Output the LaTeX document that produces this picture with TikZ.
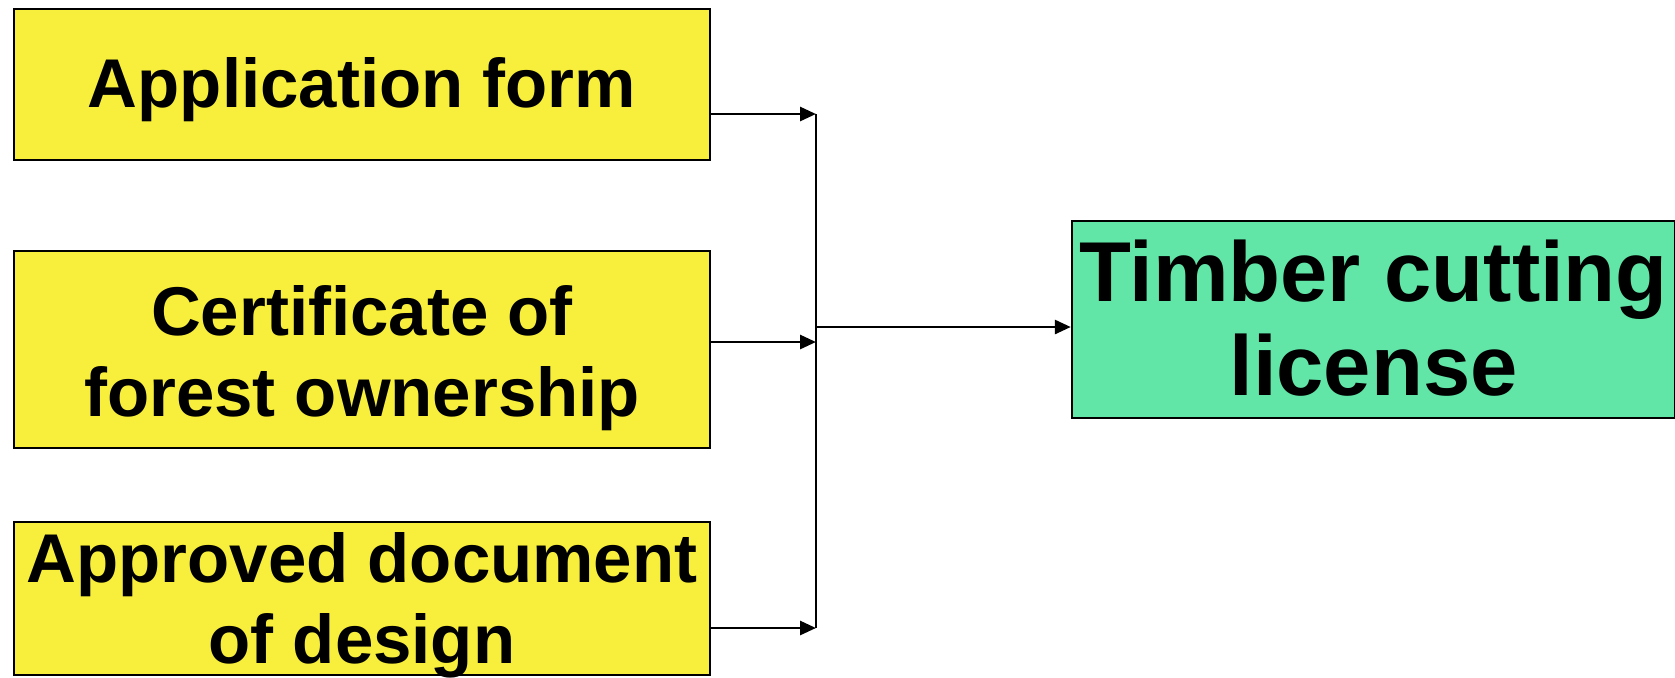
\documentclass[tikz,border=0pt]{standalone}
\usepackage{fontspec}
\setmainfont{Liberation Sans}
\usetikzlibrary{arrows.meta}
\definecolor{boxyellow}{HTML}{F8EF3C}
\definecolor{boxgreen}{HTML}{62E6A8}
\begin{document}
\begin{tikzpicture}[x=0.5pt,y=-0.5pt,
  docbox/.style={draw=black, line width=1.2pt, fill=boxyellow, inner sep=0pt, minimum width=696*0.5pt},
  doctext/.style={inner sep=0pt, align=center, font=\fontsize{34.5pt}{40.5pt}\selectfont\bfseries},
  resbox/.style={draw=black, line width=1.2pt, fill=boxgreen, inner sep=0pt},
  restext/.style={inner sep=0pt, align=center, font=\fontsize{42.5pt}{47pt}\selectfont\bfseries},
  conn/.style={line width=1.4pt, -{Triangle[length=8pt,width=7pt]}},
  plain/.style={line width=1.4pt}]
\useasboundingbox (0,0) rectangle (1675,677);
\node[docbox, minimum height=151*0.5pt] (a) at (362,84.5) {};
\node[docbox, minimum height=197*0.5pt] (b) at (362,349.5) {};
\node[docbox, minimum height=153*0.5pt] (c) at (362,598.5) {};
\node[resbox, minimum width=603*0.5pt, minimum height=197*0.5pt] (t) at (1373.5,319.5) {};
\node[doctext] (at) at ([yshift=-2.7pt]a.center) {Application form};
\node[doctext] (bt) at ([yshift=-4.5pt]b.center) {Certificate of\\forest ownership};
\node[doctext] (ct) at ([yshift=-3.2pt]c.center) {Approved document\\of design};
\node[restext] (tt) at ([yshift=0.6pt]t.center) {Timber cutting\\license};
\coordinate (ja) at (816,114);
\coordinate (jb) at (816,342);
\coordinate (jc) at (816,628);
\coordinate (jt) at (816,327);
\draw[plain] (ja) -- (jc);
\draw[conn] (a.east |- ja) -- (ja);
\draw[conn] (b.east |- jb) -- (jb);
\draw[conn] (c.east |- jc) -- (jc);
\draw[conn] (jt) -- (t.west |- jt);
\end{tikzpicture}
\end{document}
